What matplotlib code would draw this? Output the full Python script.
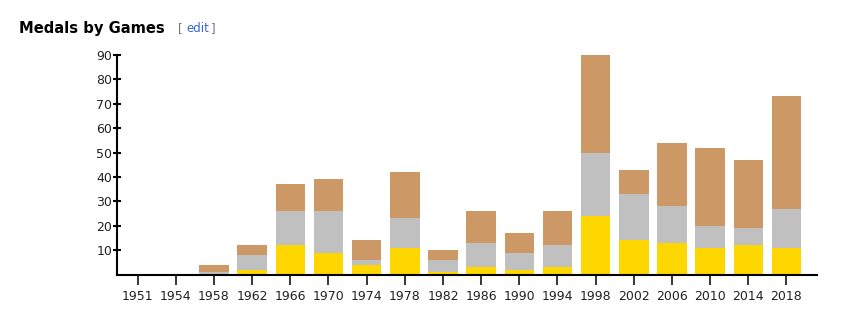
import matplotlib
matplotlib.use("Agg")
import matplotlib.pyplot as plt
import numpy as np

games = ["1951", "1954", "1958", "1962", "1966", "1970", "1974", "1978", "1982",
         "1986", "1990", "1994", "1998", "2002", "2006", "2010", "2014", "2018"]
gold = [0, 0, 0, 2, 12, 9, 4, 11, 1, 3, 2, 3, 24, 14, 13, 11, 12, 11]
silver = [0, 0, 1, 6, 14, 17, 2, 12, 5, 10, 7, 9, 26, 19, 15, 9, 7, 16]
bronze = [0, 0, 3, 4, 11, 13, 8, 19, 4, 13, 8, 14, 40, 10, 26, 32, 28, 46]
yticks = [10, 20, 30, 40, 50, 60, 70, 80, 90]

plt.rcParams['font.family'] = ['DejaVu Sans']

W, H = 848, 334
fig = plt.figure(figsize=(W / 100, H / 100), dpi=100)
left, right = 117.3 / W, 817 / W
bottom, top = (H - 274.5) / H, (H - 55) / H
ax = fig.add_axes([left, bottom, right - left, top - bottom])

x = np.arange(len(games))
g = np.array(gold)
s = np.array(silver)
b = np.array(bronze)
w = 0.773
ax.bar(x, g, width=w, color="#FFD700", linewidth=0)
ax.bar(x, s, width=w, bottom=g, color="#C0C0C0", linewidth=0)
ax.bar(x, b, width=w, bottom=g + s, color="#CC9966", linewidth=0)

ax.set_xlim(-0.534, 17.80)
ax.set_ylim(0, 90)
ax.set_xticks(x)
ax.set_xticklabels(games, fontsize=9, color="#222222")
ax.set_yticks(yticks)
ax.set_yticklabels([str(v) for v in yticks], fontsize=9, color="#222222")

for sp in ["top", "right"]:
    ax.spines[sp].set_visible(False)
for sp in ["left", "bottom"]:
    ax.spines[sp].set_linewidth(1.5)
    ax.spines[sp].set_color("black")
ax.tick_params(axis="x", direction="out", length=7.5, width=1.1, pad=4)
ax.tick_params(axis="y", direction="inout", length=5.5, width=1.5, pad=1)

fig.text(19 / W, 1 - 28 / H, "Medals by Games", fontsize=10.6, fontweight="bold",
         va="center", ha="left", color="black")
fig.text(178 / W, 1 - 29 / H, "[", fontsize=8.5, va="center", ha="left", color="#72777d")
fig.text(186 / W, 1 - 29 / H, "edit", fontsize=8.5, va="center", ha="left", color="#3366cc")
fig.text(211 / W, 1 - 29 / H, "]", fontsize=8.5, va="center", ha="left", color="#72777d")

fig.savefig("out.png", dpi=100)
